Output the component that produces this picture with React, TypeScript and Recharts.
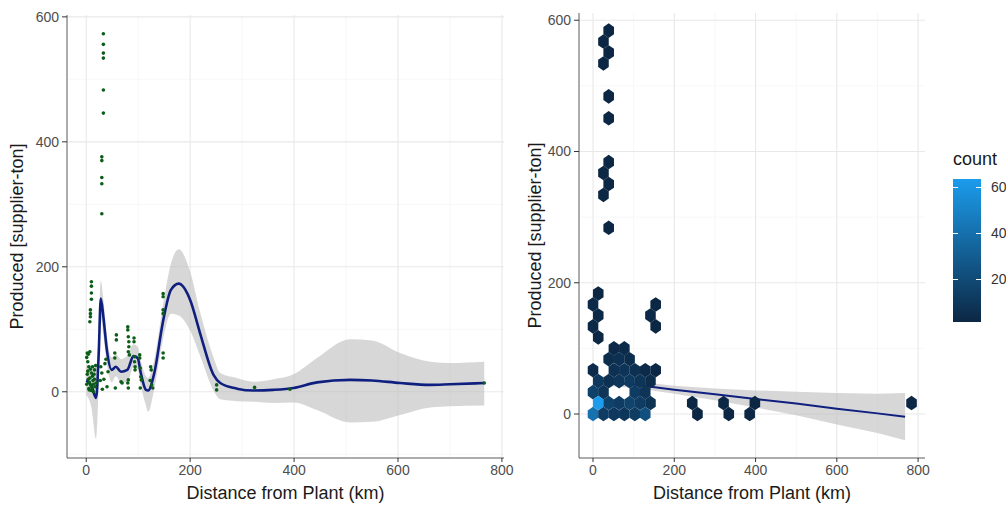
import { ComposedChart, Scatter, Line, Area, XAxis, YAxis, CartesianGrid, Legend } from 'recharts'

const FONT = '"Liberation Sans", Arial, Helvetica, sans-serif'
const TICK = { fill: '#4d4d4d', fontSize: 14, fontFamily: FONT }
const TITLE = { fill: '#1a1a1a', fontSize: 18, fontFamily: FONT }
const BORDER = '#5a5a5a'

// left panel: raw supplier points
const ptsX = [33, 33, 33, 33, 33, 33, 30, 30, 30, 30, 30,
  10, 10, 10, 10, 8, 8, 8, 7,
  2, 4, 7, 1, 3, 5, 8, 10, 12, 2, 4, 6, 9, 11, 13, 15, 14, 1, 5, 16, 18, 3, 12, 7, 17, 10, 6, 14, 16, 19,
  28, 30, 27, 31, 34, 36, 38, 40, 42,
  55, 55, 56, 58, 58, 67, 69,
  80, 80, 81, 82, 82, 81, 83, 80, 81, 81,
  92, 92, 93, 93, 94, 94,
  103, 103, 104, 105, 106, 104,
  124, 125, 126, 128, 123,
  148, 148, 148, 148, 148, 148,
  251, 251, 324, 392, 766]
const ptsY = [573, 556, 542, 534, 483, 446, 376, 370, 343, 333, 285,
  176, 169, 158, 148, 131, 125, 120, 112,
  62, 60, 64, 55, 48, 40, 36, 30, 25, 28, 20, 15, 10, 6, 18, 28, 12, 12, 5, 35, 42, 33, 40, 22, 8, 2, 3, 0, 20, 14,
  40, 30, 18, 4, 20, 45, 52, 8, 32,
  62, 54, 6, 91, 83, 16, 14,
  104, 99, 88, 80, 72, 64, 59, 14, 6, 19,
  86, 80, 56, 48, 40, 35,
  59, 54, 38, 24, 19, 6,
  40, 35, 11, 6, 18,
  157, 152, 131, 125, 62, 54,
  11, 3, 7, 4, 14]

// left panel: loess fit and its confidence band
const smoothX = [0, 10, 19, 24, 28, 33, 40, 49, 57, 67, 79, 91, 99, 105, 115, 119, 131, 147, 163, 178, 200, 219, 245, 258, 290, 322, 360, 399, 444, 508, 550, 604, 662, 700, 766]
const smoothFit = [18, 10, -10, 60, 149, 120, 65, 35, 40, 32, 35, 57, 54, 30, 3, 2, 30, 109, 163, 173, 147, 94, 27, 14, 5, 2, 3, 6, 15, 19, 18, 14, 11, 12, 14]
const smoothLo = [-5, -25, -75, 10, 118, 90, 42, 15, 25, 15, 15, 40, 36, 10, -22, -32, 5, 80, 125, 122, 98, 58, 2, -12, -15, -16, -18, -17, -29, -49, -48, -37, -25, -23, -22]
const smoothHi = [42, 42, 40, 100, 178, 148, 88, 55, 60, 52, 58, 76, 72, 50, 25, 22, 52, 135, 205, 228, 192, 128, 55, 30, 22, 16, 20, 28, 54, 84, 82, 62, 48, 46, 48]

// right panel: linear fit and band
const fitX = [0, 100, 200, 300, 400, 500, 600, 700, 768]
const fitY = [52, 45, 37, 30, 23, 16, 8, 1, -4]
const fitLo = [44, 40, 31, 21, 10, -2, -16, -29, -40]
const fitHi = [60, 50, 43, 39, 36, 34, 32, 31, 32]

// right panel: hex bin centres and counts
const hexX = [38.55, 25.7, 38.55, 25.7, 38.55, 38.55, 38.55, 25.7, 38.55, 25.7, 38.55,
  12.85, 0, 12.85, 0, 12.85,
  154.2, 141.35, 154.2,
  51.4, 77.1,
  38.55, 64.25, 89.95,
  0, 51.4, 77.1, 102.8, 128.5, 154.2,
  12.85, 38.55, 64.25, 89.95, 115.65, 141.35,
  0, 25.7, 102.8, 128.5,
  12.85, 38.55, 64.25, 89.95, 115.65, 141.35, 244.15, 321.25, 398.35, 783.85,
  0, 25.7, 51.4, 77.1, 102.8, 128.5, 257, 334.1, 385.5]
const hexY = [584.2, 567.5, 550.8, 534.1, 484, 450.6, 383.9, 367.2, 350.5, 333.8, 283.7,
  183.6, 166.9, 150.2, 133.5, 116.8,
  166.9, 150.2, 133.5,
  100.1, 100.1,
  83.5, 83.5, 83.5,
  66.8, 66.8, 66.8, 66.8, 66.8, 66.8,
  50.1, 50.1, 50.1, 50.1, 50.1, 50.1,
  33.4, 33.4, 33.4, 33.4,
  16.7, 16.7, 16.7, 16.7, 16.7, 16.7, 16.7, 16.7, 16.7, 16.7,
  0, 0, 0, 0, 0, 0, 0, 0, 0]
const hexCount = [1, 1, 1, 1, 1, 1, 1, 1, 1, 1, 1,
  1, 2, 2, 2, 1,
  1, 2, 1,
  2, 3,
  4, 6, 4,
  3, 6, 8, 6, 3, 1,
  10, 6, 9, 11, 8, 4,
  15, 8, 12, 8,
  62, 15, 12, 16, 12, 7, 1, 1, 1, 1,
  40, 12, 10, 9, 12, 22, 1, 1, 1]

const countTicks = [20, 40, 60]
const COUNT_MIN = 1
const COUNT_MAX = 62
const LOW = [12, 39, 68]
const HIGH = [27, 156, 236]

const pointData = ptsX.map((x, i) => ({ x, y: ptsY[i] }))
const smoothData = smoothX.map((x, i) => ({ x, fit: smoothFit[i], band: [smoothLo[i], smoothHi[i]] }))
const fitData = fitX.map((x, i) => ({ x, fit: fitY[i], band: [fitLo[i], fitHi[i]] }))
const hexData = hexX.map((x, i) => ({ x, y: hexY[i], count: hexCount[i] }))

function countColor(c: number) {
  const t = Math.max(0, Math.min(1, (c - COUNT_MIN) / (COUNT_MAX - COUNT_MIN)))
  const rgb = LOW.map((l, k) => Math.round(l + (HIGH[k] - l) * t))
  return `rgb(${rgb[0]},${rgb[1]},${rgb[2]})`
}

const Dot = (p: any) => <circle cx={p.cx} cy={p.cy} r={1.8} fill="#0b5d17" />

const Hex = (p: any) => {
  const { cx, cy, payload } = p
  const w = 5.3
  const h = 7.3
  const s = 3.65
  const pts = `${cx},${cy - h} ${cx + w},${cy - s} ${cx + w},${cy + s} ${cx},${cy + h} ${cx - w},${cy + s} ${cx - w},${cy - s}`
  return <polygon points={pts} fill={countColor(payload.count)} />
}

const CountLegend = () => {
  const barH = 143
  const pos = (v: number) => barH * (1 - (v - COUNT_MIN) / (COUNT_MAX - COUNT_MIN + 1.5))
  return (
    <div style={{ fontFamily: FONT, color: '#1a1a1a' }}>
      <div style={{ fontSize: 18, lineHeight: '20px', marginBottom: 10 }}>count</div>
      <div style={{ position: 'relative', width: 60, height: barH }}>
        <div style={{
          position: 'absolute', left: 0, top: 0, width: 28, height: barH,
          background: `linear-gradient(to top, ${countColor(COUNT_MIN)}, ${countColor(COUNT_MAX)})`,
        }} />
        {countTicks.map((v) => (
          <div key={v}>
            <div style={{ position: 'absolute', left: 0, top: pos(v), width: 5, height: 1, background: '#fff' }} />
            <div style={{ position: 'absolute', left: 23, top: pos(v), width: 5, height: 1, background: '#fff' }} />
            <div style={{ position: 'absolute', left: 38, top: pos(v) - 8, fontSize: 14, color: '#333' }}>{v}</div>
          </div>
        ))}
      </div>
    </div>
  )
}

export default function App() {
  const leftX = [-37, 804]
  const leftY = [-106, 603]
  const rightX = [-34.5, 817]
  const rightY = [-67, 611]
  return (
    <div style={{ position: 'absolute', left: 0, top: 0, width: 1006, height: 505, background: '#fff', fontFamily: FONT }}>
      <div style={{ position: 'absolute', left: 0, top: 0 }}>
        <ComposedChart width={520} height={505} margin={{ top: 15, right: 16, bottom: 0, left: 8 }}>
          <CartesianGrid stroke="#f3f3f3" strokeWidth={0.7} verticalValues={[100, 300, 500, 700]} horizontalValues={[-100, 100, 300, 500]} />
          <CartesianGrid stroke="#e8e8e8" strokeWidth={1.1} verticalValues={[0, 200, 400, 600, 800]} horizontalValues={[0, 200, 400, 600]} />
          <XAxis type="number" dataKey="x" domain={leftX} allowDataOverflow ticks={[0, 200, 400, 600, 800]} height={47}
            tick={TICK} tickSize={4} tickMargin={3} tickLine={{ stroke: '#333' }} axisLine={{ stroke: BORDER }}
            label={{ value: 'Distance from Plant (km)', position: 'insideBottom', offset: 6, ...TITLE }} />
          <XAxis xAxisId="top" orientation="top" type="number" domain={leftX} allowDataOverflow height={0} tick={false} tickLine={false} axisLine={{ stroke: BORDER }} />
          <YAxis type="number" domain={leftY} allowDataOverflow ticks={[0, 200, 400, 600]} width={59}
            tick={TICK} tickSize={5} tickMargin={3} tickLine={{ stroke: '#333' }} axisLine={{ stroke: BORDER }}
            label={{ value: 'Produced [supplier-ton]', angle: -90, position: 'insideLeft', offset: 9, ...TITLE, style: { textAnchor: 'middle' } }} />
          <YAxis yAxisId="right" orientation="right" type="number" domain={leftY} allowDataOverflow width={0} tick={false} tickLine={false} axisLine={{ stroke: BORDER }} />
          <Scatter data={pointData} dataKey="y" shape={Dot} isAnimationActive={false} />
          <Area data={smoothData} dataKey="band" type="monotone" fill="#bdbdbd" fillOpacity={0.6} stroke="none" isAnimationActive={false} />
          <Line data={smoothData} dataKey="fit" type="monotone" stroke="#0f1f80" strokeWidth={2.6} dot={false} isAnimationActive={false} />
        </ComposedChart>
      </div>
      <div style={{ position: 'absolute', left: 520, top: 0 }}>
        <ComposedChart width={486} height={505} margin={{ top: 13, right: 81, bottom: 0, left: 8 }}>
          <CartesianGrid stroke="#f3f3f3" strokeWidth={0.7} verticalValues={[100, 300, 500, 700]} horizontalValues={[100, 300, 500]} />
          <CartesianGrid stroke="#e8e8e8" strokeWidth={1.1} verticalValues={[0, 200, 400, 600, 800]} horizontalValues={[0, 200, 400, 600]} />
          <XAxis type="number" dataKey="x" domain={rightX} allowDataOverflow ticks={[0, 200, 400, 600, 800]} height={47}
            tick={TICK} tickSize={4} tickMargin={3} tickLine={{ stroke: '#333' }} axisLine={{ stroke: BORDER }}
            label={{ value: 'Distance from Plant (km)', position: 'insideBottom', offset: 6, ...TITLE }} />
          <XAxis xAxisId="top" orientation="top" type="number" domain={rightX} allowDataOverflow height={0} tick={false} tickLine={false} axisLine={{ stroke: BORDER }} />
          <YAxis type="number" domain={rightY} allowDataOverflow ticks={[0, 200, 400, 600]} width={51}
            tick={TICK} tickSize={5} tickMargin={3} tickLine={{ stroke: '#333' }} axisLine={{ stroke: BORDER }}
            label={{ value: 'Produced [supplier-ton]', angle: -90, position: 'insideLeft', offset: 7, ...TITLE, style: { textAnchor: 'middle' } }} />
          <YAxis yAxisId="right" orientation="right" type="number" domain={rightY} allowDataOverflow width={0} tick={false} tickLine={false} axisLine={{ stroke: BORDER }} />
          <Area data={fitData} dataKey="band" type="linear" fill="#bdbdbd" fillOpacity={0.6} stroke="none" isAnimationActive={false} />
          <Line data={fitData} dataKey="fit" type="linear" stroke="#0f1f80" strokeWidth={2} dot={false} isAnimationActive={false} />
          <Scatter data={hexData} dataKey="y" shape={Hex} isAnimationActive={false} />
          <Legend layout="vertical" align="center" verticalAlign="middle" content={CountLegend}
            wrapperStyle={{ position: 'absolute', left: 433, top: 149, width: 70 }} />
        </ComposedChart>
      </div>
    </div>
  )
}
